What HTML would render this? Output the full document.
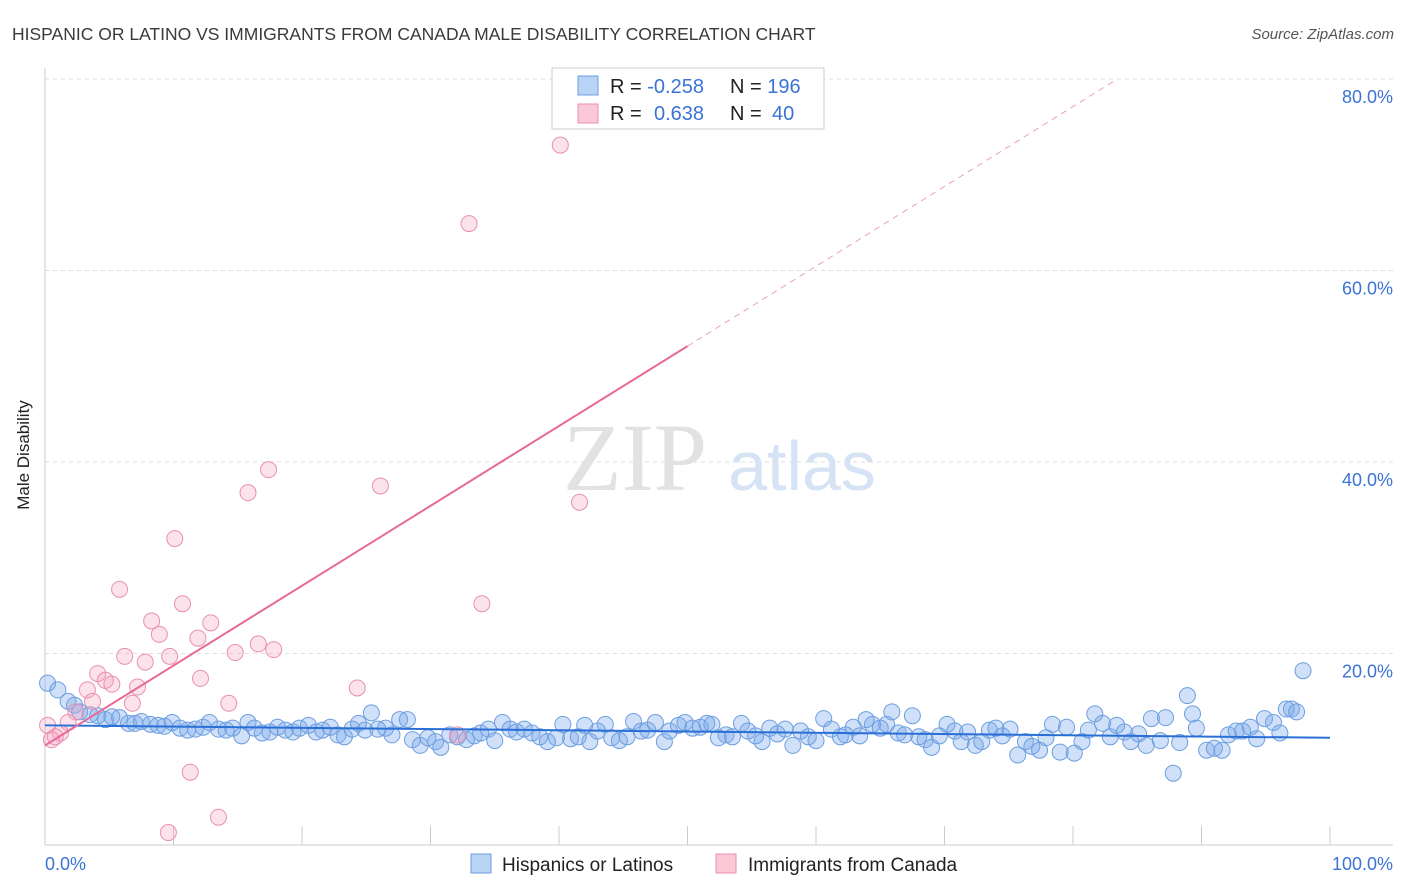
<!DOCTYPE html>
<html><head><meta charset="utf-8"><style>
body{margin:0;background:#fff;font-family:"Liberation Sans",sans-serif;}
#wrap{position:relative;width:1406px;height:892px;overflow:hidden;}
</style></head><body>
<div id="wrap">
<svg id="chart" width="1406" height="892" xmlns="http://www.w3.org/2000/svg">
<text x="12" y="40" font-size="17.5" fill="#3a3a3a">HISPANIC OR LATINO VS IMMIGRANTS FROM CANADA MALE DISABILITY CORRELATION CHART</text>
<text x="1394" y="39" font-size="15" fill="#555" font-style="italic" text-anchor="end">Source: ZipAtlas.com</text>
<g id="grid"></g>
<line x1="45" y1="68" x2="45" y2="845" stroke="#ccc"/>
<line x1="45" y1="845" x2="1393" y2="845" stroke="#ccc"/>
<text x="29" y="455" font-size="17" fill="#222" text-anchor="middle" transform="rotate(-90 29 455)">Male Disability</text>
<g><text x="635" y="490" font-size="96" font-family="Liberation Serif,serif" fill="#e2e2e2" text-anchor="middle">ZIP</text><text x="802" y="490" font-size="70" fill="#d5e3f5" text-anchor="middle">atlas</text></g>
<g id="marks"></g>
<text x="45" y="870" font-size="18" fill="#3b73d6">0.0%</text>
<text x="1393" y="870" font-size="18" fill="#3b73d6" text-anchor="end">100.0%</text>
<g>
<rect x="552" y="68" width="272" height="61" fill="#fff" stroke="#ccc"/>
<rect x="578" y="76" width="20" height="19" fill="#b9d3f5" stroke="#6c9fe0"/>
<rect x="578" y="104" width="20" height="19" fill="#f9c9d8" stroke="#e890b0"/>
<text x="610" y="93" font-size="20" fill="#222">R = <tspan fill="#3b73d6">-0.258</tspan><tspan x="730">N = </tspan><tspan fill="#3b73d6">196</tspan></text>
<text x="610" y="120" font-size="20" fill="#222">R = <tspan x="654" fill="#3b73d6">0.638</tspan><tspan x="730">N = </tspan><tspan x="772" fill="#3b73d6">40</tspan></text>
</g>
<g>
<rect x="471" y="854" width="20" height="19" fill="#b9d3f5" stroke="#6c9fe0"/>
<text x="502" y="871" font-size="19" fill="#222">Hispanics or Latinos</text>
<rect x="716" y="854" width="20" height="19" fill="#f9c9d8" stroke="#e890b0"/>
<text x="748" y="871" font-size="19" fill="#222">Immigrants from Canada</text>
</g>
</svg>
</div>
<script>
const yTicks=[20,40,60,80];
const xTicks=[0,10,20,30,40,50,60,70,80,90,100];
const blueX=[0.2,1,1.8,2.3,2.7,3.5,4.1,4.7,5.2,5.8,6.5,7,7.5,8.2,8.8,9.3,9.9,10.5,11.1,11.7,12.3,12.8,13.5,14.1,14.6,15.3,15.8,16.3,16.9,17.5,18.1,18.7,19.3,19.8,20.5,21.1,21.6,22.2,22.8,23.3,23.9,24.4,24.9,25.4,25.9,26.5,27,27.6,28.2,28.6,29.2,29.8,30.4,30.8,31.5,32.1,32.8,33.4,33.9,34.5,35,35.6,36.2,36.7,37.3,37.9,38.5,39.1,39.8,40.3,40.9,41.5,42,42.4,43,43.6,44.1,44.7,45.3,45.8,46.4,46.9,47.5,48.2,48.6,49.3,49.8,50.4,51,51.5,51.9,52.4,53,53.5,54.2,54.7,55.3,55.8,56.4,57,57.6,58.2,58.8,59.4,60,60.6,61.2,61.9,62.3,62.9,63.4,63.9,64.4,65,65.5,65.9,66.4,66.9,67.5,68,68.5,69,69.6,70.2,70.8,71.3,71.8,72.4,72.9,73.5,74,74.5,75.1,75.7,76.3,76.8,77.4,77.9,78.4,79,79.5,80.1,80.7,81.2,81.7,82.3,82.9,83.4,84,84.5,85.1,85.7,86.1,86.8,87.2,87.8,88.3,88.9,89.3,89.6,90.4,91,91.6,92.1,92.7,93.2,93.8,94.3,94.9,95.6,96.1,96.6,97,97.4,97.9];
const blueY=[16.9,16.2,15,14.6,13.9,13.6,13.5,13.1,13.4,13.3,12.7,12.7,12.9,12.6,12.5,12.4,12.8,12.2,12,12.1,12.3,12.8,12.1,12,12.2,11.4,12.8,12.2,11.7,11.8,12.3,12,11.8,12.2,12.5,11.8,12,12.3,11.5,11.3,12.1,12.7,12,13.8,12.1,12.2,11.5,13.1,13.1,11,10.4,11.2,10.8,10.2,11.5,11.3,11,11.4,11.7,12.1,10.9,12.8,12.1,11.8,12.1,11.7,11.3,10.8,11.2,12.6,11.1,11.3,12.5,10.8,11.9,12.6,11.2,10.9,11.3,12.9,11.9,12,12.8,10.8,11.9,12.5,12.8,12.2,12.3,12.7,12.6,11.2,11.5,11.3,12.7,11.9,11.4,10.8,12.2,11.6,12.1,10.4,11.9,11.3,10.9,13.2,12.1,11.3,11.5,12.3,11.4,13.1,12.6,12.2,12.6,13.9,11.7,11.5,13.5,11.3,11,10.2,11.4,12.6,11.9,10.8,11.8,10.4,10.8,12,12.2,11.4,12.1,9.4,10.8,10.3,9.9,11.2,12.6,9.7,12.3,9.6,10.8,12,13.7,12.7,11.3,12.5,11.8,10.8,11.6,10.4,13.2,10.9,13.3,7.5,10.7,15.6,13.7,12.2,9.9,10.1,9.9,11.5,11.9,11.9,12.3,11.1,13.2,12.8,11.7,14.2,14.2,13.9,18.2];
const pinkX=[40.1,33,17.4,15.8,26.1,41.6,10.1,5.8,10.7,34,8.3,12.9,8.9,11.9,16.6,17.8,6.2,14.8,9.7,7.8,4.1,12.1,4.7,5.2,7.2,24.3,3.3,3.7,14.3,6.8,2.4,1.8,0.2,1.2,0.5,11.3,13.5,9.6,32.1,0.8];
const pinkY=[73.1,64.9,39.2,36.8,37.5,35.8,32,26.7,25.2,25.2,23.4,23.2,22,21.6,21,20.4,19.7,20.1,19.7,19.1,17.9,17.4,17.2,16.8,16.5,16.4,16.2,15,14.8,14.8,13.9,12.8,12.5,11.7,11,7.6,2.9,1.3,11.5,11.3];
const blueTrend=[12.5,11.2];
const pinkTrend=[10.4,52.1];
const NS='http://www.w3.org/2000/svg';
const X0=45,X1=1330,Y0=845,PY=9.575;
function sx(v){return X0+(X1-X0)*v/100;}
function sy(v){return Y0-v*PY;}
function mk(tag,attrs,parent){const e=document.createElementNS(NS,tag);for(const k in attrs)e.setAttribute(k,attrs[k]);parent.appendChild(e);return e;}
const grid=document.getElementById('grid'),marks=document.getElementById('marks');
yTicks.forEach(t=>{
 const l=mk('line',{x1:45,x2:1393,y1:sy(t),y2:sy(t),stroke:'#ddd','stroke-dasharray':'4 4'},grid);
 
 
 const tx=mk('text',{x:1393,y:sy(t)+24,'font-size':18,fill:'#3b73d6','text-anchor':'end'},grid);
 tx.textContent=t.toFixed(1)+'%';
 
 
});
xTicks.forEach(t=>{
 const l=mk('line',{x1:sx(t),x2:sx(t),y1:826,y2:845,stroke:'#ccc'},grid);
 
 
});
for(let i=0;i<blueX.length;i++){
 const c=mk('circle',{cx:sx(blueX[i]),cy:sy(blueY[i]),r:8,fill:'rgba(120,165,235,0.35)',stroke:'#6c9fe0','stroke-width':1},marks);
 
 
}
for(let i=0;i<pinkX.length;i++){
 const c=mk('circle',{cx:sx(pinkX[i]),cy:sy(pinkY[i]),r:8,fill:'rgba(245,160,190,0.3)',stroke:'#e890b0','stroke-width':1},marks);
 
 
}
const bt=mk('line',{x1:sx(0),y1:sy(blueTrend[0]),x2:sx(100),y2:sy(blueTrend[1]),stroke:'#2a6fd6','stroke-width':2},marks);


const slope=(pinkTrend[1]-pinkTrend[0])/50;
const pt=mk('line',{x1:sx(0),y1:sy(pinkTrend[0]),x2:sx(50),y2:sy(pinkTrend[1]),stroke:'#e8689a','stroke-width':2},marks);


const xe=(80-pinkTrend[0])/slope;
const pd=mk('line',{x1:sx(50),y1:sy(pinkTrend[1]),x2:sx(xe),y2:sy(80),stroke:'#eaa0bb','stroke-width':1,'stroke-dasharray':'6 5'},marks);


</script>
</body></html>
